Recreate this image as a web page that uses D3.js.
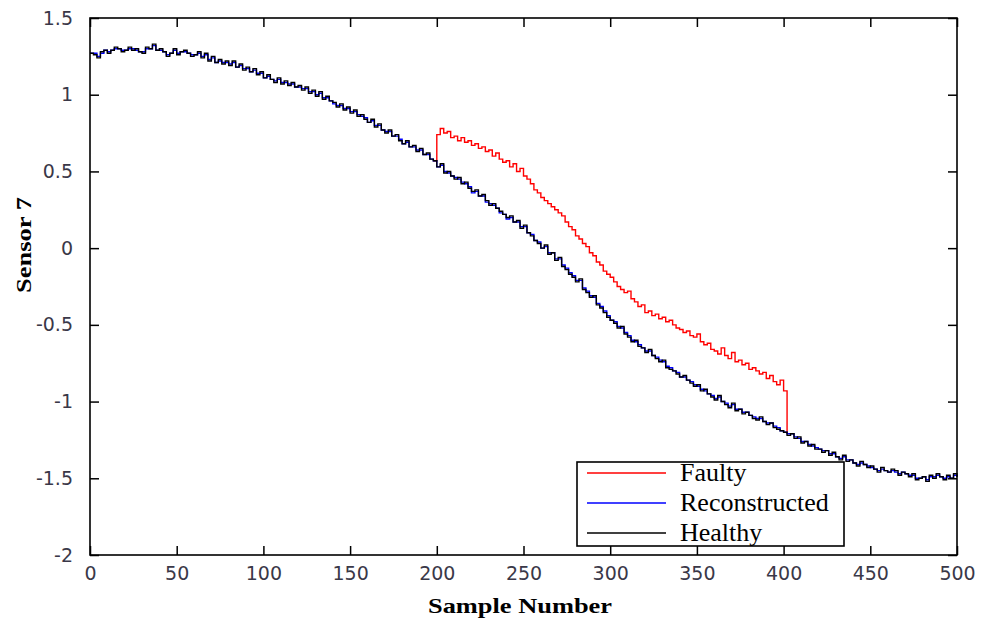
<!DOCTYPE html>
<html><head><meta charset="utf-8">
<script src="https://cdn.jsdelivr.net/npm/d3@7"></script>
<style>body{margin:0;background:#fff}svg{display:block}</style>
</head><body>
<svg id="chart" width="983" height="623"></svg>
<script>
// ---- data ----
const sampleStep = 2;               // samples 0,2,4,...,500
const xTicks = [0,50,100,150,200,250,300,350,400,450,500];
const yTicks = [-2,-1.5,-1,-0.5,0,0.5,1,1.5];
const yTickLabels = ["-2","-1.5","-1","-0.5","0","0.5","1","1.5"];
const healthy = [
 1.27,1.26,1.24,1.28,1.29,1.27,1.29,1.31,1.30,1.28,
 1.29,1.31,1.29,1.30,1.28,1.27,1.31,1.30,1.33,1.29,
 1.30,1.28,1.25,1.27,1.30,1.26,1.28,1.29,1.27,1.25,
 1.26,1.28,1.24,1.27,1.22,1.25,1.21,1.23,1.20,1.22,
 1.19,1.22,1.18,1.20,1.16,1.18,1.15,1.17,1.13,1.15,
 1.11,1.13,1.10,1.08,1.11,1.07,1.09,1.06,1.08,1.05,
 1.06,1.03,1.05,1.01,1.03,0.99,1.02,0.97,0.99,0.96,
 0.95,0.92,0.94,0.90,0.92,0.88,0.90,0.86,0.87,0.84,
 0.82,0.84,0.79,0.81,0.77,0.75,0.77,0.73,0.74,0.70,
 0.68,0.70,0.66,0.67,0.63,0.65,0.61,0.62,0.58,0.57,
 0.53,0.55,0.49,0.50,0.47,0.45,0.46,0.42,0.43,0.39,
 0.37,0.38,0.34,0.35,0.31,0.28,0.29,0.26,0.24,0.22,
 0.20,0.21,0.17,0.18,0.13,0.15,0.10,0.08,0.05,0.03,
 0.00,0.02,-0.04,-0.03,-0.08,-0.06,-0.12,-0.14,-0.17,-0.19,
 -0.22,-0.20,-0.27,-0.29,-0.32,-0.31,-0.37,-0.39,-0.42,-0.45,
 -0.47,-0.49,-0.52,-0.51,-0.56,-0.58,-0.61,-0.60,-0.64,-0.65,
 -0.68,-0.66,-0.70,-0.72,-0.74,-0.73,-0.78,-0.79,-0.80,-0.82,
 -0.84,-0.83,-0.86,-0.88,-0.90,-0.89,-0.93,-0.92,-0.95,-0.97,
 -0.99,-0.96,-1.00,-1.02,-1.04,-1.01,-1.06,-1.05,-1.08,-1.07,
 -1.09,-1.11,-1.12,-1.10,-1.13,-1.15,-1.14,-1.17,-1.18,-1.19,
 -1.20,-1.22,-1.21,-1.24,-1.23,-1.27,-1.26,-1.29,-1.28,-1.31,
 -1.31,-1.33,-1.32,-1.35,-1.33,-1.36,-1.38,-1.35,-1.39,-1.38,
 -1.40,-1.42,-1.39,-1.41,-1.43,-1.42,-1.44,-1.46,-1.43,-1.45,
 -1.46,-1.44,-1.45,-1.48,-1.46,-1.47,-1.49,-1.47,-1.51,-1.50,
 -1.49,-1.52,-1.48,-1.50,-1.47,-1.49,-1.51,-1.48,-1.50,-1.47,
 -1.49];
const reconstructed = [
 1.27,1.27,1.25,1.27,1.29,1.28,1.29,1.30,1.30,1.29,
 1.29,1.30,1.30,1.29,1.28,1.28,1.30,1.30,1.32,1.29,
 1.29,1.28,1.26,1.27,1.29,1.27,1.28,1.28,1.27,1.26,
 1.26,1.27,1.25,1.26,1.23,1.24,1.21,1.22,1.21,1.21,
 1.20,1.21,1.18,1.19,1.17,1.17,1.15,1.16,1.14,1.14,
 1.11,1.12,1.10,1.09,1.10,1.08,1.08,1.07,1.07,1.05,
 1.05,1.04,1.04,1.02,1.02,1.00,1.01,0.98,0.98,0.96,
 0.94,0.93,0.93,0.91,0.91,0.89,0.89,0.87,0.86,0.85,
 0.82,0.83,0.80,0.80,0.77,0.76,0.76,0.73,0.73,0.71,
 0.68,0.69,0.66,0.66,0.64,0.64,0.61,0.61,0.58,0.57,
 0.53,0.54,0.50,0.49,0.47,0.46,0.45,0.43,0.42,0.40,
 0.36,0.37,0.34,0.34,0.30,0.29,0.28,0.26,0.23,0.22,
 0.19,0.20,0.17,0.17,0.14,0.14,0.10,0.09,0.05,0.04,
 0.00,0.01,-0.03,-0.03,-0.07,-0.07,-0.11,-0.13,-0.16,-0.18,
 -0.21,-0.21,-0.26,-0.28,-0.31,-0.32,-0.36,-0.38,-0.41,-0.44,
 -0.47,-0.48,-0.51,-0.52,-0.55,-0.57,-0.60,-0.61,-0.63,-0.65,
 -0.67,-0.67,-0.70,-0.71,-0.73,-0.74,-0.77,-0.78,-0.80,-0.81,
 -0.84,-0.84,-0.86,-0.87,-0.89,-0.90,-0.92,-0.93,-0.95,-0.96,
 -0.98,-0.97,-1.00,-1.01,-1.03,-1.02,-1.05,-1.05,-1.07,-1.07,
 -1.09,-1.10,-1.11,-1.11,-1.13,-1.14,-1.14,-1.16,-1.17,-1.19,
 -1.20,-1.21,-1.21,-1.23,-1.24,-1.26,-1.26,-1.28,-1.29,-1.30,
 -1.31,-1.32,-1.32,-1.34,-1.34,-1.36,-1.37,-1.36,-1.38,-1.38,
 -1.40,-1.41,-1.40,-1.41,-1.42,-1.43,-1.44,-1.45,-1.44,-1.45,
 -1.46,-1.45,-1.46,-1.47,-1.46,-1.47,-1.48,-1.48,-1.50,-1.50,
 -1.49,-1.51,-1.49,-1.49,-1.48,-1.49,-1.50,-1.49,-1.50,-1.48,
 -1.49];
const faultyStart = 198;            // faulty series covers samples 198..402
const faulty = [0.57,
 0.74,0.78,0.75,0.76,0.72,0.73,0.70,0.72,0.69,0.70,
 0.67,0.68,0.65,0.66,0.63,0.64,0.60,0.62,0.58,0.56,
 0.57,0.53,0.55,0.50,0.52,0.47,0.45,0.42,0.38,0.36,
 0.33,0.31,0.29,0.27,0.25,0.23,0.21,0.17,0.14,0.12,
 0.08,0.06,0.03,0.01,-0.03,-0.05,-0.09,-0.11,-0.15,-0.17,
 -0.19,-0.22,-0.25,-0.27,-0.29,-0.28,-0.33,-0.35,-0.38,-0.37,
 -0.42,-0.41,-0.44,-0.43,-0.46,-0.45,-0.48,-0.47,-0.50,-0.52,
 -0.53,-0.55,-0.54,-0.57,-0.58,-0.56,-0.61,-0.63,-0.62,-0.66,
 -0.67,-0.69,-0.65,-0.70,-0.72,-0.68,-0.74,-0.73,-0.76,-0.75,
 -0.79,-0.78,-0.80,-0.82,-0.81,-0.85,-0.83,-0.87,-0.89,-0.86,
 -0.93,-1.21];
const seriesNames = ["Faulty","Reconstructed","Healthy"];
const seriesColors = ["#ff0000","#0000ff","#000000"];

// ---- chart ----
const svg = d3.select("#chart");
const L = 90, R = 957, T = 18, B = 555;
const x = d3.scaleLinear().domain([0,500]).range([L,R]);
const y = d3.scaleLinear().domain([-2,1.5]).range([B,T]);
const tickLen = 9;

const line = d3.line().curve(d3.curveStepAfter).x(d=>x(d[0])).y(d=>y(d[1]));
const toPts = (arr, start) => arr.map((v,i)=>[start + i*sampleStep, v]);

const plot = svg.append("g");
const sets = [toPts(faulty, faultyStart), toPts(reconstructed,0), toPts(healthy,0)];
sets.forEach((pts,i)=>{
  plot.append("path").attr("d", line(pts)).attr("fill","none")
    .attr("stroke", seriesColors[i]).attr("stroke-width", 1.4);
});

// axes (MATLAB style box with inward ticks)
const fontTick = "'DejaVu Sans', sans-serif";
const gx = svg.append("g").attr("transform",`translate(0,${B})`)
  .call(d3.axisBottom(x).tickValues(xTicks).tickSize(-tickLen).tickPadding(12).tickFormat(d3.format("d")));
const gxt = svg.append("g").attr("transform",`translate(0,${T})`)
  .call(d3.axisTop(x).tickValues(xTicks).tickSize(-tickLen).tickFormat(""));
const gy = svg.append("g").attr("transform",`translate(${L},0)`)
  .call(d3.axisLeft(y).tickValues(yTicks).tickSize(-tickLen).tickPadding(17).tickFormat((d,i)=>yTickLabels[i]));
const gyr = svg.append("g").attr("transform",`translate(${R},0)`)
  .call(d3.axisRight(y).tickValues(yTicks).tickSize(-tickLen).tickFormat(""));
[gx,gxt,gy,gyr].forEach(g=>{
  g.select(".domain").remove();
  g.selectAll(".tick line").attr("stroke","#000").attr("stroke-width",1.5);
  g.selectAll(".tick text").attr("font-family",fontTick).attr("font-size",19).attr("fill","#3a3848");
});
gx.selectAll(".tick text").attr("dy","0.71em");
svg.append("rect").attr("x",L).attr("y",T).attr("width",R-L).attr("height",B-T)
  .attr("fill","none").attr("stroke","#000").attr("stroke-width",1.6);

// axis titles
svg.append("text").attr("x",520).attr("y",613).attr("text-anchor","middle")
  .attr("font-family","'Liberation Serif', 'Times New Roman', serif").attr("font-weight","bold")
  .attr("font-size",22).attr("textLength",184).attr("lengthAdjust","spacingAndGlyphs")
  .text("Sample Number");
svg.append("text").attr("transform","translate(31,245) rotate(-90)").attr("text-anchor","middle")
  .attr("font-family","'Liberation Serif', 'Times New Roman', serif").attr("font-weight","bold")
  .attr("font-size",22).attr("textLength",96).attr("lengthAdjust","spacingAndGlyphs")
  .text("Sensor 7");

// legend
const lg = svg.append("g");
lg.append("rect").attr("x",577).attr("y",462).attr("width",267).attr("height",84)
  .attr("fill","#fff").attr("stroke","#000").attr("stroke-width",1.6);
const lgY = [473,503,533];
seriesNames.forEach((n,i)=>{
  lg.append("line").attr("x1",587).attr("x2",666).attr("y1",lgY[i]).attr("y2",lgY[i])
    .attr("stroke",seriesColors[i]).attr("stroke-width",1.4);
  lg.append("text").attr("x",680).attr("y",lgY[i]+8)
    .attr("font-family","'Liberation Serif', 'Times New Roman', serif").attr("font-size",26)
    .attr("fill","#000").text(n);
});
</script>
</body></html>
